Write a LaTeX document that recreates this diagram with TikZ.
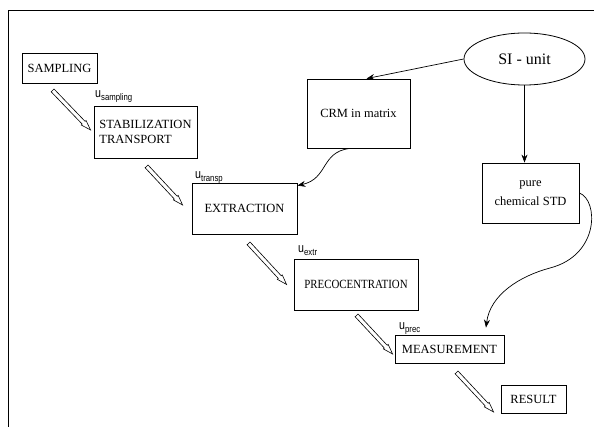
\documentclass[tikz,border=0pt]{standalone}
\usepackage{fontspec}
\usepackage{graphicx}
\usepackage{tikz}
\usetikzlibrary{arrows.meta,calc,shapes.geometric}
\setmainfont{Liberation Serif}
\newfontfamily\ufont[FakeStretch=0.82]{Liberation Sans}

% u with a lowered index, as in the labels
\newcommand{\usub}[1]{u\raisebox{-2.5pt}{\fontsize{9.5}{10}\selectfont #1}}

% hollow pencil-like arrow between two named points
\newcommand{\hollowarrow}[2]{%
  \draw[line width=0.6pt, fill=white] let \p1=(#1), \p2=(#2),
    \n1={atan2(\y2-\y1,\x2-\x1)}, \n2={veclen(\x2-\x1,\y2-\y1)} in
    {[shift={(\p1)}, rotate=\n1]
    (0pt,2pt) -- (\n2*1pt-10pt,2pt) -- (\n2*1pt-10pt,3.3pt) -- (\n2*1pt,0pt)
    -- (\n2*1pt-10pt,-3.3pt) -- (\n2*1pt-10pt,-2pt) -- (0pt,-2pt) -- cycle};}

\begin{document}
\begin{tikzpicture}[x=1pt, y=-1pt,
  stepbox/.style={draw, line width=0.8pt, inner sep=2pt,
    font=\fontsize{12.5}{14.5}\selectfont},
  ulabel/.style={anchor=base west, inner sep=0,
    font=\ufont\fontsize{13}{14}\selectfont},
  link/.style={-{Stealth[length=8pt,width=6pt]}, line width=0.7pt}]

  \useasboundingbox (0,0) rectangle (594,427);
  % frame
  \draw[line width=1pt] (8,427) -- (8,11) -- (594,11);

  % process chain
  \node[stepbox, minimum width=75pt, minimum height=30pt] (sampling) at (59.5,68) {SAMPLING};
  \node[stepbox, minimum width=103pt, minimum height=52pt, align=left] (stab) at (145.5,132)
    {STABILIZATION\\TRANSPORT};
  \node[stepbox, minimum width=105pt, minimum height=51pt] (extraction) at (244.5,208.5) {EXTRACTION};
  \node[stepbox, minimum width=124pt, minimum height=51pt] (preco) at (356,284.5)
    {\scalebox{0.87}[1]{PRECOCENTRATION}};
  \node[stepbox, minimum width=109pt, minimum height=28pt] (meas) at (449.5,349) {MEASUREMENT};
  \node[stepbox, minimum width=65pt, minimum height=28pt] (result) at (533.5,399) {RESULT};

  % uncertainty labels
  \node[ulabel] (usampling) at (95,98) {\usub{sampling}};
  \node[ulabel] (utransp) at (195,179) {\usub{transp}};
  \node[ulabel] (uextr) at (298,253) {\usub{extr}};
  \node[ulabel] (uprec) at (399,330) {\usub{prec}};

  % references
  \node[draw, ellipse, line width=0.8pt, minimum width=121pt, minimum height=52pt, inner sep=0,
    font=\fontsize{16}{18}\selectfont] (si) at (524.5,59) {SI - unit};
  \node[stepbox, minimum width=103pt, minimum height=69pt] (crm) at (358.5,113.5) {CRM in matrix};
  \node[stepbox, minimum width=97pt, minimum height=60pt, align=center] (pure) at (530.5,193)
    {pure\\[4pt]chemical STD};

  % hollow arrows of the chain
  \coordinate (h1s) at ([xshift=31pt,yshift=-7pt]sampling.south west);
  \coordinate (h1e) at ([xshift=-3pt,yshift=2pt]stab.west);
  \coordinate (h2s) at ([xshift=53pt,yshift=-8pt]stab.south west);
  \coordinate (h2e) at ([xshift=-9pt,yshift=3.5pt]extraction.west);
  \coordinate (h3s) at ([xshift=57pt,yshift=-9pt]extraction.south west);
  \coordinate (h3e) at ([xshift=-7pt]preco.west);
  \coordinate (h4s) at ([xshift=63pt,yshift=-5pt]preco.south west);
  \coordinate (h4e) at ([xshift=-2pt,yshift=-5pt]meas.west);
  \coordinate (h5s) at ([xshift=62pt,yshift=-9pt]meas.south west);
  \coordinate (h5e) at ([xshift=-7pt,yshift=-13pt]result.west);
  \hollowarrow{h1s}{h1e}
  \hollowarrow{h2s}{h2e}
  \hollowarrow{h3s}{h3e}
  \hollowarrow{h4s}{h4e}
  \hollowarrow{h5s}{h5e}

  % traceability links
  \draw[link] (si.west) -- ([xshift=8pt]crm.north);
  \draw[link] (si.south) -- (si.south |- pure.north);
  \draw[link] ([xshift=-9pt]crm.south) .. controls +(-29,4) and +(31,-7) ..
    ([yshift=-3pt]extraction.north east);
  \draw[link] (pure.east) .. controls +(19,7) and +(50,-13) .. (550,268)
    .. controls +(-30,8) and +(4,-33) .. ([xshift=36.5pt,yshift=7pt]meas.north);
\end{tikzpicture}
\end{document}
